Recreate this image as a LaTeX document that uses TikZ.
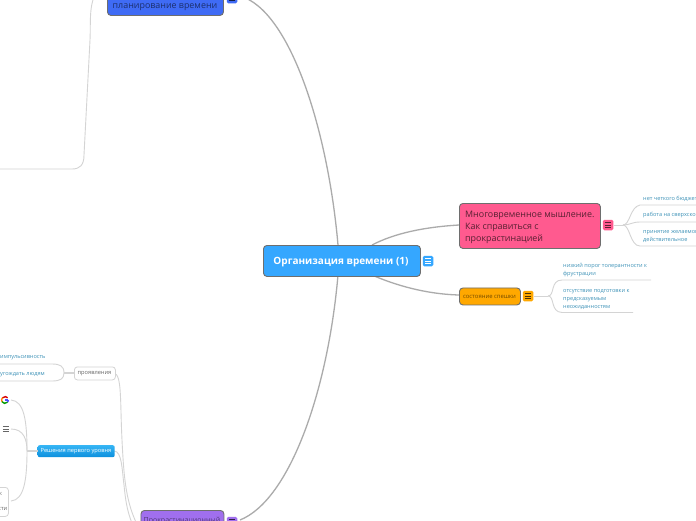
\documentclass[tikz,border=0pt]{standalone}
\usepackage{fontspec}
\setmainfont{Open Sans}
\definecolor{rootc}{HTML}{35A7FF}
\definecolor{bordc}{HTML}{6E6E6E}
\definecolor{linec}{HTML}{ABABAB}
\definecolor{leafl}{HTML}{D4D4D4}
\definecolor{pinkc}{HTML}{FF5A8F}
\definecolor{orc}{HTML}{FFA800}
\definecolor{bluec}{HTML}{3F6BF5}
\definecolor{purc}{HTML}{A06FEE}
\definecolor{leaft}{HTML}{3F93B8}
\definecolor{lvtop}{HTML}{35B5F5}
\definecolor{lvbot}{HTML}{0C8FDD}
\tikzset{
 main/.style={draw=bordc,line width=.9pt,rounded corners=3.5pt,inner sep=0pt,anchor=north west},
 leaftxt/.style={text=leaft,font=\fontsize{5.6}{8}\selectfont,align=left,anchor=west,inner sep=0pt},
 branch/.style={draw=linec,line width=1.3pt},
 leafline/.style={draw=leafl,line width=.9pt},
 btn/.style={rounded corners=1.5pt,inner sep=0pt,minimum width=10.5pt,minimum height=10.5pt},
 box/.style={draw=leafl,fill=white,line width=.8pt,rounded corners=3pt,inner sep=0pt,anchor=north west}
}
\newcommand{\burger}[2]{\draw[#2,line width=.7pt] (#1)+(-3.2,-2.5) -- +(3.2,-2.5) (#1)+(-3.2,0) -- +(3.2,0) (#1)+(-3.2,2.5) -- +(3.2,2.5);}
\begin{document}
\begin{tikzpicture}[x=1pt,y=-1pt]
\useasboundingbox (0,0) rectangle (696,520);
\clip (0,0) rectangle (696,520);
\fill[white] (0,0) rectangle (696,520);
% branches from root
\coordinate (rt) at (338,245);
\coordinate (rb) at (338,275);
\coordinate (rr) at (372,245);
\coordinate (rs) at (372,275);
\draw[branch] (rt) .. controls (328,130) and (290,10) .. (240,-4);
\draw[branch] (rb) .. controls (328,390) and (290,500) .. (240,520);
\draw[branch] (rr) .. controls (395,233) and (425,227) .. (459,225);
\draw[branch] (rs) .. controls (395,285) and (425,294) .. (459,295);
% top-left long line
\draw[leafline] (100,-12) .. controls (88,0) and (91,20) .. (90,40) -- (84,155) .. controls (84,165) and (80,169) .. (72,169) -- (0,169);
% root
\node[main,fill=rootc,minimum width=157pt,minimum height=31pt] (root) at (263,245) {};
\node[text=white,font=\fontsize{10}{12}\bfseries\selectfont,inner sep=0pt] (roott) at (341,262) {Организация времени (1)};
\node[btn,fill=rootc] (rootb) at (428,261) {};
\burger{rootb}{white}
% pink
\node[main,fill=pinkc,minimum width=141pt,minimum height=45pt] (pink) at (459,203) {};
\node[text=black!65!pinkc,font=\fontsize{8.9}{12}\selectfont,align=left,anchor=north west,inner sep=0pt] (pinkt) at (465,210.5) {Многовременное мышление.\\Как справиться с\\прокрастинацией};
\node[btn,fill=pinkc] (pinkb) at (608,225) {};
\burger{pinkb}{black!65!pinkc}
\draw[leafline,line width=.9pt] (614,225) -- (623,225);
\draw[leafline] (623,225) .. controls (630,225) and (630,207) .. (640,205) -- (696,205);
\draw[leafline] (623,225) .. controls (630,225) and (632,222) .. (640,222) -- (696,222);
\draw[leafline] (623,225) .. controls (630,225) and (630,246) .. (640,246) -- (696,246);
\node[leaftxt] (p1) at (643,198.5) {нет четкого бюджет};
\node[leaftxt] (p2) at (643,215.5) {работа на сверхско};
\node[leaftxt] (p3) at (643,236.5) {принятие желаемог\\действительное};
% orange
\node[main,fill=orc,minimum width=61pt,minimum height=17pt] (or) at (459,287.5) {};
\node[text=black!55!orc,font=\fontsize{5.9}{7}\selectfont,inner sep=0pt] (ort) at (489.5,296.5) {состояние спешки};
\node[btn,fill=orc] (orb) at (528,296) {};
\burger{orb}{black!70!orc}
\draw[leafline,line width=.9pt] (534,296) -- (548,296);
\draw[leafline] (548,296) .. controls (555,296) and (550,280) .. (562,280) -- (651,280);
\draw[leafline] (548,296) .. controls (555,296) and (550,312) .. (562,312.5) -- (633,312.5);
\node[leaftxt] (o1) at (563,270.5) {низкий порог толерантности к\\фрустрации};
\node[leaftxt] (o2) at (563,299) {отсутствие подготовки к\\предсказуемым\\неожиданностям};
% blue top
\node[main,fill=bluec,minimum width=116pt,minimum height=30pt] (blue) at (107,-15) {};
\node[text=black!55!bluec,font=\fontsize{8.9}{11}\selectfont,inner sep=0pt] (bluet) at (165,7) {планирование времени};
\node[btn,fill=bluec] (blueb) at (232,-2) {};
\burger{blueb}{black!70!bluec}
% purple
\node[main,fill=purc,minimum width=83pt,minimum height=20pt] (pur) at (140.5,510) {};
\node[text=black!50!purc,font=\fontsize{7}{8}\selectfont,inner sep=0pt] (purt) at (182,520.5) {Прокрастинационный};
\node[btn,fill=purc] (purb) at (232,522) {};
\burger{purb}{black!70!purc}
% long left branch
\draw[leafline] (114,373) .. controls (122,375) and (120,400) .. (122,440) .. controls (124,480) and (126,505) .. (140,530);
\draw[leafline] (114,451) .. controls (122,451) and (122,470) .. (124,485) .. controls (126,505) and (128,515) .. (135,530);
% проявления
\node[box,minimum width=41pt,minimum height=13pt] (pr) at (74,366.5) {};
\node[text=black!60,font=\fontsize{5.7}{7}\selectfont,inner sep=0pt] (prt) at (94.5,373.6) {проявления};
\draw[leafline,line width=1.2pt] (64,373) -- (74,373);
\draw[leafline] (64,373) .. controls (64,366) and (60,364) .. (52,364) -- (0,364);
\draw[leafline] (64,373) .. controls (64,379) and (60,381) .. (52,381) -- (0,381);
\node[leaftxt] (l1) at (0,358) {импульсивность};
\node[leaftxt] (l2) at (0,375) {угождать людям};
% first level
\node[draw=none,top color=lvtop,bottom color=lvbot,rounded corners=2pt,minimum width=77pt,minimum height=12pt,inner sep=0pt,anchor=north west] (lv) at (37.5,445) {};
\node[text=white,font=\fontsize{5.7}{7}\selectfont,inner sep=0pt] (lvt) at (76,451.5) {Решения первого уровня};
\draw[leafline,line width=1.2pt] (27,451) -- (37.5,451);
\draw[leafline] (27,451) .. controls (27,420) and (24,401) .. (11,400);
\draw[leafline] (27,451) .. controls (27,440) and (24,429) .. (11,429);
\draw[leafline] (27,451) .. controls (27,480) and (24,500) .. (11,501);
% google G
\draw[red!85!black,line width=1.4pt] (5,400) ++(-140:3.4) arc (-140:-40:3.4);
\draw[orange,line width=1.4pt] (5,400) ++(-210:3.4) arc (-210:-140:3.4);
\draw[green!60!black,line width=1.4pt] (5,400) ++(-320:3.4) arc (-320:-210:3.4);
\draw[blue!70!white,line width=1.4pt] (5,400) ++(-360:3.4) arc (-360:-320:3.4);
\draw[blue!70!white,line width=1.2pt] (5.2,400) -- (8.4,400);
\coordinate (hb) at (6,429);
\burger{hb}{black!60}
\node[box,minimum width=12pt,minimum height=29pt] (bx) at (-4,487) {};
\node[text=black!60,font=\fontsize{5.7}{7}\selectfont,inner sep=0pt,anchor=west] (b1) at (-1,494) {к};
\node[text=black!60,font=\fontsize{5.7}{7}\selectfont,inner sep=0pt,anchor=east] (b2) at (7.5,509) {сти};
\end{tikzpicture}
\end{document}
